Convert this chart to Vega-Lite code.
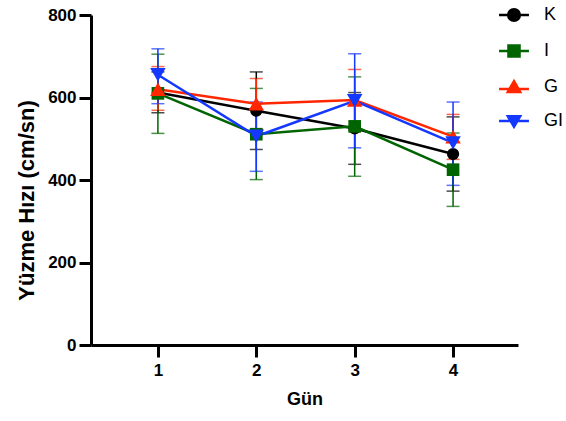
{
  "$schema": "https://vega.github.io/schema/vega-lite/v6.json",
  "width": 427,
  "height": 330,
  "autosize": {"type": "none"},
  "padding": {"left": 91, "top": 15, "right": 48, "bottom": 76},
  "background": "white",
  "config": {
    "view": {"stroke": null},
    "font": "Liberation Sans",
    "axis": {
      "grid": false,
      "domainColor": "black",
      "domainWidth": 3,
      "tickColor": "black",
      "tickWidth": 3,
      "tickSize": 12,
      "labelFont": "Liberation Sans",
      "labelFontWeight": "bold",
      "labelFontSize": 17,
      "labelColor": "black",
      "titleFont": "Liberation Sans",
      "titleFontWeight": "bold",
      "titleColor": "black"
    }
  },
  "data": {
    "values": [
      {"grup": "K", "gun": 1, "ort": 612, "alt": 563, "ust": 662},
      {"grup": "K", "gun": 2, "ort": 568, "alt": 474, "ust": 662},
      {"grup": "K", "gun": 3, "ort": 525, "alt": 438, "ust": 612},
      {"grup": "K", "gun": 4, "ort": 463, "alt": 373, "ust": 553},
      {"grup": "I", "gun": 1, "ort": 610, "alt": 513, "ust": 705},
      {"grup": "I", "gun": 2, "ort": 511, "alt": 401, "ust": 622},
      {"grup": "I", "gun": 3, "ort": 530, "alt": 409, "ust": 650},
      {"grup": "I", "gun": 4, "ort": 425, "alt": 336, "ust": 514},
      {"grup": "G", "gun": 1, "ort": 620, "alt": 569, "ust": 675},
      {"grup": "G", "gun": 2, "ort": 585, "alt": 523, "ust": 646},
      {"grup": "G", "gun": 3, "ort": 594, "alt": 521, "ust": 668},
      {"grup": "G", "gun": 4, "ort": 505, "alt": 450, "ust": 559},
      {"grup": "GI", "gun": 1, "ort": 655, "alt": 585, "ust": 718},
      {"grup": "GI", "gun": 2, "ort": 506, "alt": 421, "ust": 589},
      {"grup": "GI", "gun": 3, "ort": 592, "alt": 478, "ust": 706},
      {"grup": "GI", "gun": 4, "ort": 490, "alt": 387, "ust": 589}
    ]
  },
  "encoding": {
    "x": {
      "field": "gun", "type": "quantitative",
      "scale": {"domain": [0.32, 4.66], "nice": false, "zero": false},
      "axis": {"values": [1, 2, 3, 4], "format": "d", "title": "Gün", "titleFontSize": 18, "labelPadding": 5, "titlePadding": 12}
    },
    "color": {
      "field": "grup", "type": "nominal",
      "scale": {"domain": ["K", "I", "G", "GI"], "range": ["#000000", "#006400", "#ff2600", "#1438ff"]},
      "legend": {
        "title": null,
        "orient": "none",
        "legendX": 414,
        "legendY": -9,
        "symbolSize": 169,
        "symbolStrokeWidth": 2.5,
        "symbolOpacity": 1,
        "labelFont": "Liberation Sans",
        "labelFontSize": 18,
        "labelColor": "black",
        "labelOffset": 21,
        "rowPadding": 14,
        "encode": {
          "symbols": {
            "update": {
              "shape": {"signal": "datum.value === 'K' ? 'M-2.3,0L2.3,0M-0.9,0A0.9,0.9,0,1,0,0.9,0A0.9,0.9,0,1,0,-0.9,0Z' : datum.value === 'I' ? 'M-2.3,0L2.3,0M-0.85,-0.85L0.85,-0.85L0.85,0.85L-0.85,0.85Z' : datum.value === 'G' ? 'M-2.3,0.3L2.3,0.3M0,-0.9L0.95,0.75L-0.95,0.75Z' : 'M-2.3,0L2.3,0M-0.95,-0.75L0.95,-0.75L0,0.9Z'"},
              "stroke": {"scale": "color", "field": "value"},
              "fill": {"scale": "color", "field": "value"},
              "fillOpacity": {"value": 1},
              "strokeWidth": {"value": 2.5}
            }
          }
        }
      }
    }
  },
  "layer": [
    {
      "mark": {"type": "errorbar", "ticks": {"size": 13, "thickness": 1.5}, "thickness": 1.5},
      "encoding": {
        "y": {"field": "alt", "type": "quantitative", "scale": {"domain": [0, 800], "nice": false}, "axis": {"values": [0, 200, 400, 600, 800], "title": "Yüzme Hızı (cm/sn)", "titleFontSize": 22, "titleY": 185, "labelPadding": 3, "titlePadding": 9}},
        "y2": {"field": "ust"}
      }
    },
    {
      "mark": {"type": "line", "strokeWidth": 2.5},
      "encoding": {"y": {"field": "ort", "type": "quantitative"}}
    },
    {
      "transform": [{"filter": "datum.grup === 'K'"}],
      "mark": {"type": "point", "filled": true, "opacity": 1, "shape": "circle", "size": 150},
      "encoding": {"y": {"field": "ort", "type": "quantitative"}}
    },
    {
      "transform": [{"filter": "datum.grup === 'I'"}],
      "mark": {"type": "point", "filled": true, "opacity": 1, "shape": "square", "size": 160},
      "encoding": {"y": {"field": "ort", "type": "quantitative"}}
    },
    {
      "transform": [{"filter": "datum.grup === 'G'"}],
      "mark": {"type": "point", "filled": true, "opacity": 1, "shape": "triangle-up", "size": 240},
      "encoding": {"y": {"field": "ort", "type": "quantitative"}}
    },
    {
      "transform": [{"filter": "datum.grup === 'GI'"}],
      "mark": {"type": "point", "filled": true, "opacity": 1, "shape": "triangle-down", "size": 240},
      "encoding": {"y": {"field": "ort", "type": "quantitative"}}
    }
  ]
}
